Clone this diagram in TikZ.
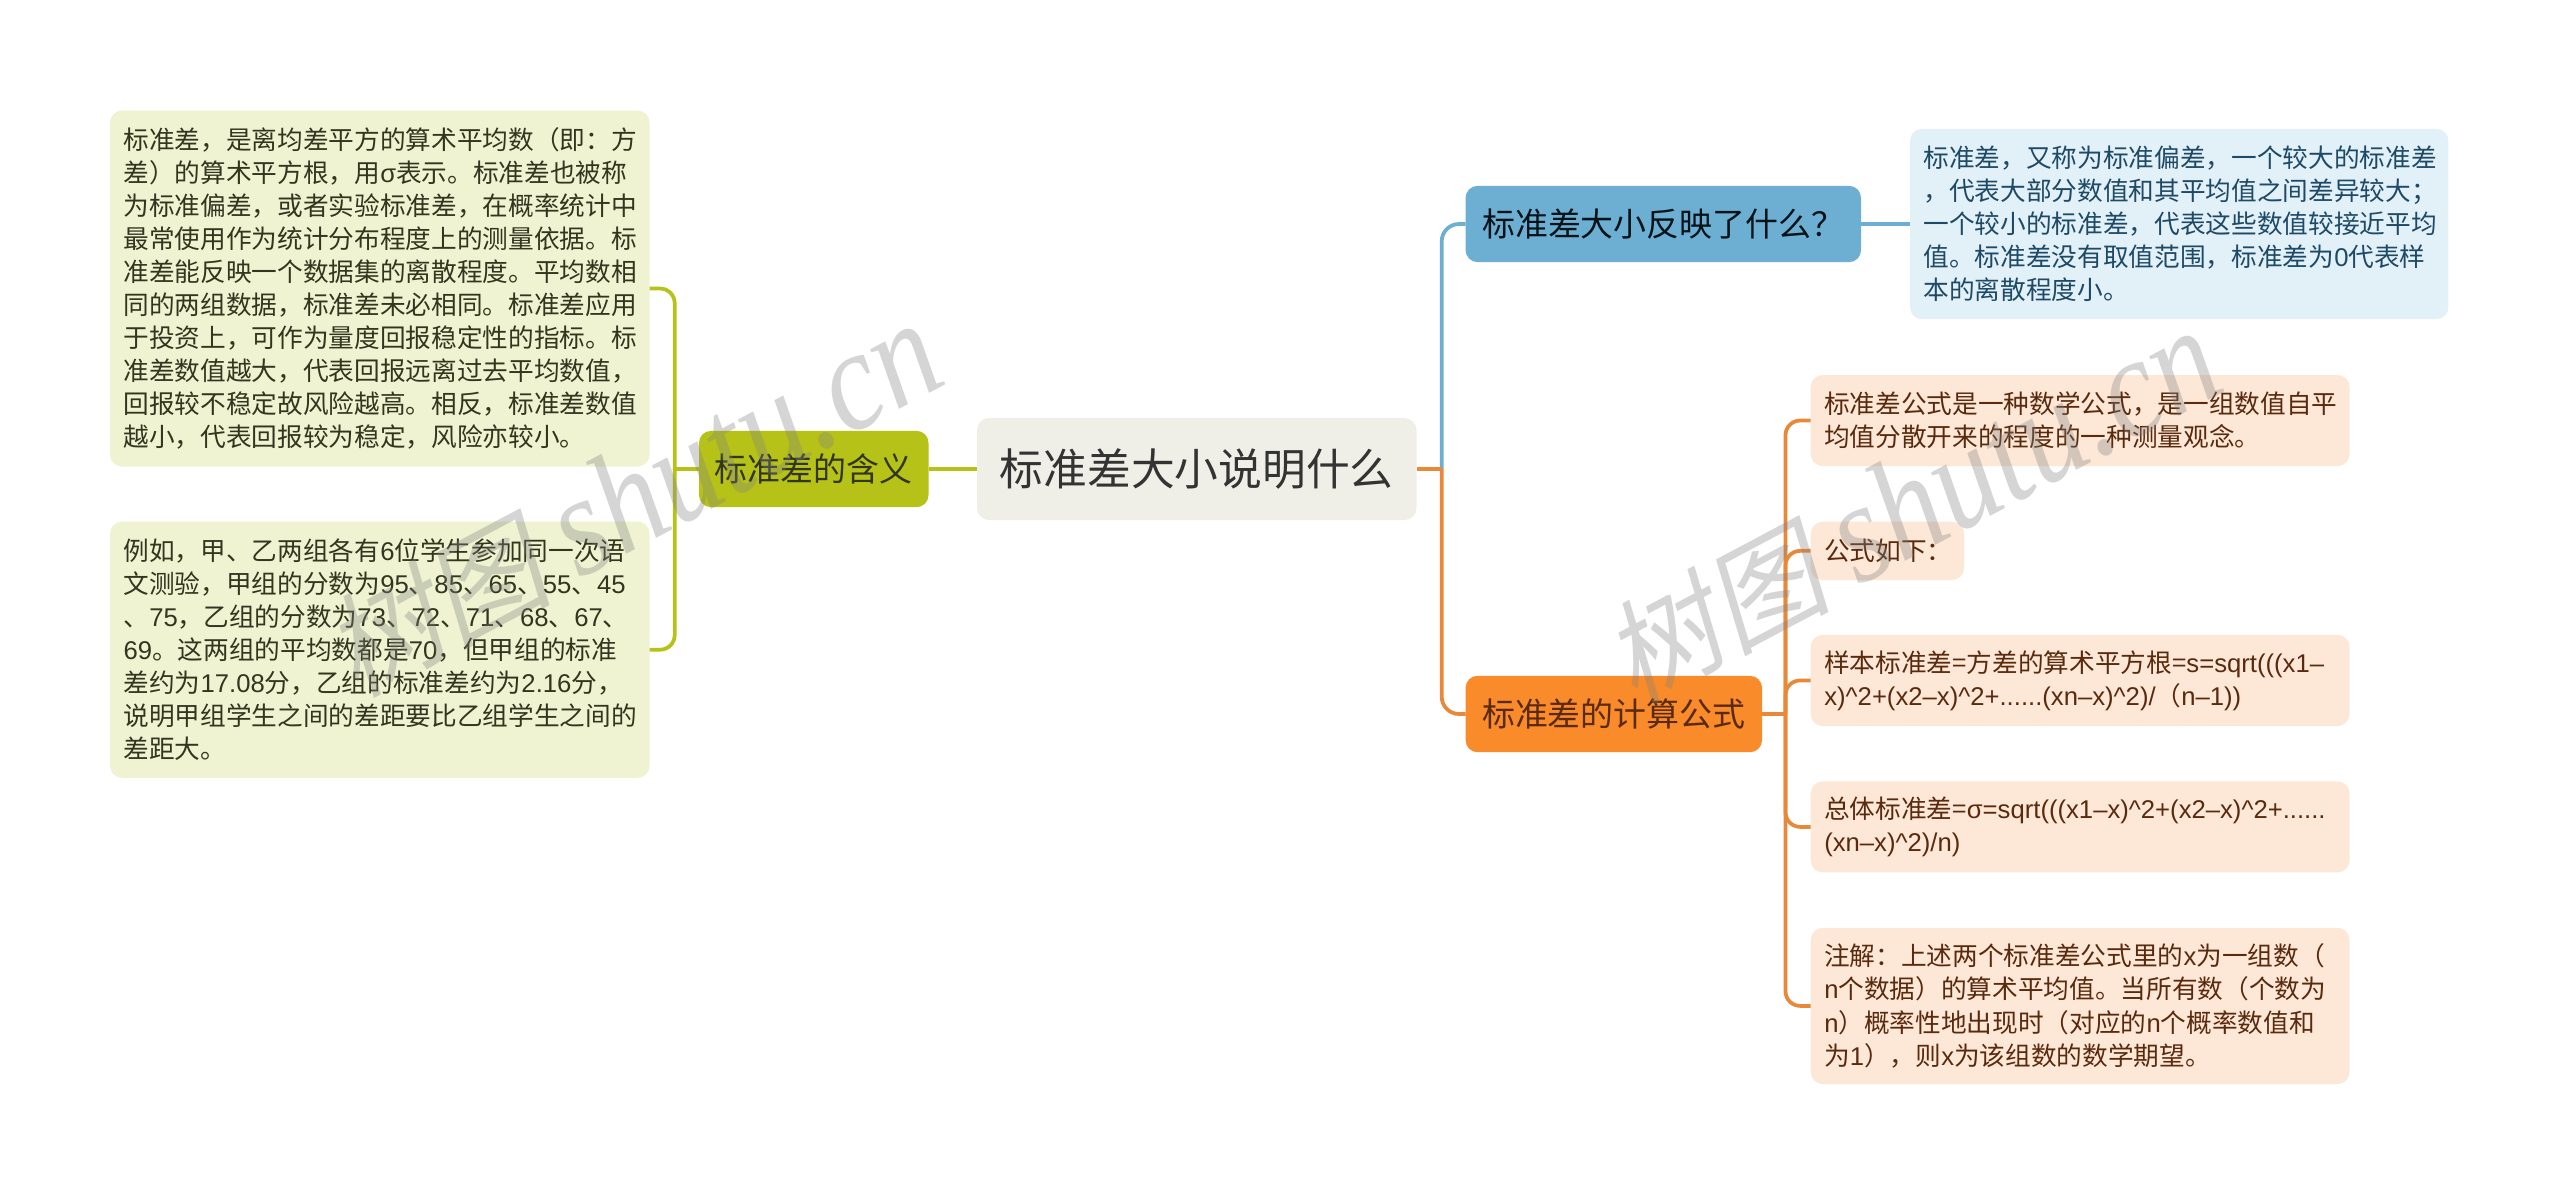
\documentclass[tikz,border=0pt]{standalone}
\usepackage{fontspec}
\setmainfont{Noto Sans CJK SC}
\newfontfamily\latf{Liberation Sans}
\newfontfamily\wmlat[FakeStretch=0.87]{Liberation Serif Italic}
\newfontfamily\wmcjk[FakeSlant=0.2]{Noto Sans CJK SC}
\newcommand{\lat}[1]{{\latf #1}}
\newcommand{\crt}{\textasciicircum}
\newcommand{\wmtext}{{\fontsize{85pt}{110pt}\selectfont\wmcjk 树图}\hspace{20pt}{\fontsize{108pt}{110pt}\selectfont\wmlat shutu.cn}}
\definecolor{gLine}{HTML}{B6C218}
\definecolor{gLeaf}{HTML}{EFF3D2}
\definecolor{gText}{HTML}{33361F}
\definecolor{bLine}{HTML}{6CAFD2}
\definecolor{bLeaf}{HTML}{E2F0F8}
\definecolor{bText}{HTML}{1E4A66}
\definecolor{oLine}{HTML}{E8893A}
\definecolor{oNode}{HTML}{F98B2A}
\definecolor{oLeaf}{HTML}{FDE8D7}
\definecolor{oText}{HTML}{5A2A0E}
\definecolor{rootFill}{HTML}{EFEFE8}
\tikzset{
  wh/.style 2 args={minimum width=#1*0.75pt, minimum height=#2*0.75pt},
  tw/.style={text width=#1*0.75pt},
  basebox/.style={rectangle, rounded corners=9pt, inner sep=0pt, outer sep=0pt, anchor=center},
  leafbox/.style={basebox, align=left, inner xsep=10.2pt, font=\fontsize{19.25pt}{24.8pt}\selectfont},
  gleaf/.style={leafbox, fill=gLeaf, text=gText},
  bleaf/.style={leafbox, fill=bLeaf, text=bText},
  oleaf/.style={leafbox, fill=oLeaf, text=oText},
  branch/.style={basebox, font=\fontsize{24.7pt}{30pt}\selectfont},
  link/.style={line width=2.8pt},
  glink/.style={link, draw=gLine},
  blink/.style={link, draw=bLine},
  olink/.style={link, draw=oLine},
  wmark/.style={inner sep=0pt, anchor=base east, rotate=28, text=black!50, text opacity=0.33}
}
\begin{document}
\begin{tikzpicture}[x=0.75pt,y=-0.75pt]
\useasboundingbox (0,0) rectangle (2560,1197);
\fill[white] (0,0) rectangle (2560,1197);

\node[basebox, fill=rootFill, text=black!80, wh={439.5}{102}, font=\fontsize{32.8pt}{40pt}\selectfont] (root) at (1196.75,469) {标准差大小说明什么};

\node[branch, fill=gLine, text=gText, wh={229.5}{76.3}] (gb) at (813.75,469) {标准差的含义};
\node[branch, fill=bLine, text=black!75!bText, wh={395.4}{76.3}] (bb) at (1663.3,224) {标准差大小反映了什么？};
\node[branch, fill=oNode, text=oText, wh={296.4}{76.4}] (ob) at (1613.8,714) {标准差的计算公式};

\node[gleaf, wh={539.5}{356}, tw=512.3] (g1) at (379.75,288.5) {标准差，是离均差平方的算术平均数（即：方\\差）的算术平方根，用\lat{σ}表示。标准差也被称\\为标准偏差，或者实验标准差，在概率统计中\\最常使用作为统计分布程度上的测量依据。标\\准差能反映一个数据集的离散程度。平均数相\\同的两组数据，标准差未必相同。标准差应用\\于投资上，可作为量度回报稳定性的指标。标\\准差数值越大，代表回报远离过去平均数值，\\回报较不稳定故风险越高。相反，标准差数值\\越小，代表回报较为稳定，风险亦较小。};
\node[gleaf, wh={539.5}{256.2}, tw=512.3] (g2) at (379.75,649.7) {例如，甲、乙两组各有\lat{6}位学生参加同一次语\\文测验，甲组的分数为\lat{95}、\lat{85}、\lat{65}、\lat{55}、\lat{45}\\、\lat{75}，乙组的分数为\lat{73}、\lat{72}、\lat{71}、\lat{68}、\lat{67}、\\\lat{69}。这两组的平均数都是\lat{70}，但甲组的标准\\差约为\lat{17.08}分，乙组的标准差约为\lat{2.16}分，\\说明甲组学生之间的差距要比乙组学生之间的\\差距大。};

\node[bleaf, wh={538.4}{190.3}, tw=511.2] (bl) at (2179.2,224) {标准差，又称为标准偏差，一个较大的标准差\\，代表大部分数值和其平均值之间差异较大；\\一个较小的标准差，代表这些数值较接近平均\\值。标准差没有取值范围，标准差为\lat{0}代表样\\本的离散程度小。};

\node[oleaf, wh={538.8}{91}, tw=511.6] (o1) at (2080.1,420.5) {标准差公式是一种数学公式，是一组数值自平\\均值分散开来的程度的一种测量观念。};
\node[oleaf, wh={153.3}{58.3}, tw=126.1] (o2) at (1887.35,550.85) {公式如下：};
\node[oleaf, wh={538.8}{91.2}, tw=511.6] (o3) at (2080.1,680.4) {样本标准差=方差的算术平方根=\lat{s=sqrt(((x1–}\\\lat{x)\crt2+(x2–x)\crt2+......(xn–x)\crt2)/}（\lat{n–1))}};
\node[oleaf, wh={538.8}{91}, tw=511.6] (o4) at (2080.1,826.9) {总体标准差=\lat{σ=sqrt(((x1–x)\crt2+(x2–x)\crt2+......}\\\lat{(xn–x)\crt2)/n)}};
\node[oleaf, wh={538.8}{156.3}, tw=511.6] (o5) at (2080.1,1005.9) {注解：上述两个标准差公式里的\lat{x}为一组数（\\\lat{n}个数据）的算术平均值。当所有数（个数为\\\lat{n}）概率性地出现时（对应的\lat{n}个概率数值和\\为\lat{1}），则\lat{x}为该组数的数学期望。};

\coordinate (jr) at (1441.7,469);
\coordinate (jg) at (674.7,469);
\coordinate (jo) at (1785.5,714);

\draw[glink] (root.west) -- (gb.east);
\draw[glink] (gb.west) -- (jg);
\draw[glink, rounded corners=11pt] (jg) |- (g1.east);
\draw[glink, rounded corners=11pt] (jg) |- (g2.east);

\draw[blink, rounded corners=13pt] (jr) |- (bb.west);
\draw[blink] (bb.east) -- (bl.west);
\draw[olink] (root.east) -- (jr);
\draw[olink, rounded corners=13pt] (jr) |- (ob.west);

\draw[olink] (ob.east) -- (jo);
\draw[olink, rounded corners=11pt] (jo) |- (o1.west);
\draw[olink, rounded corners=11pt] (jo) |- (o2.west);
\draw[olink, rounded corners=11pt] (jo) |- (o3.west);
\draw[olink, rounded corners=11pt] (jo) |- (o4.west);
\draw[olink, rounded corners=11pt] (jo) |- (o5.west);

\node[wmark] (wm1) at (951,382) {\wmtext};
\node[wmark] (wm2) at (2230,389) {\wmtext};
\end{tikzpicture}
\end{document}
